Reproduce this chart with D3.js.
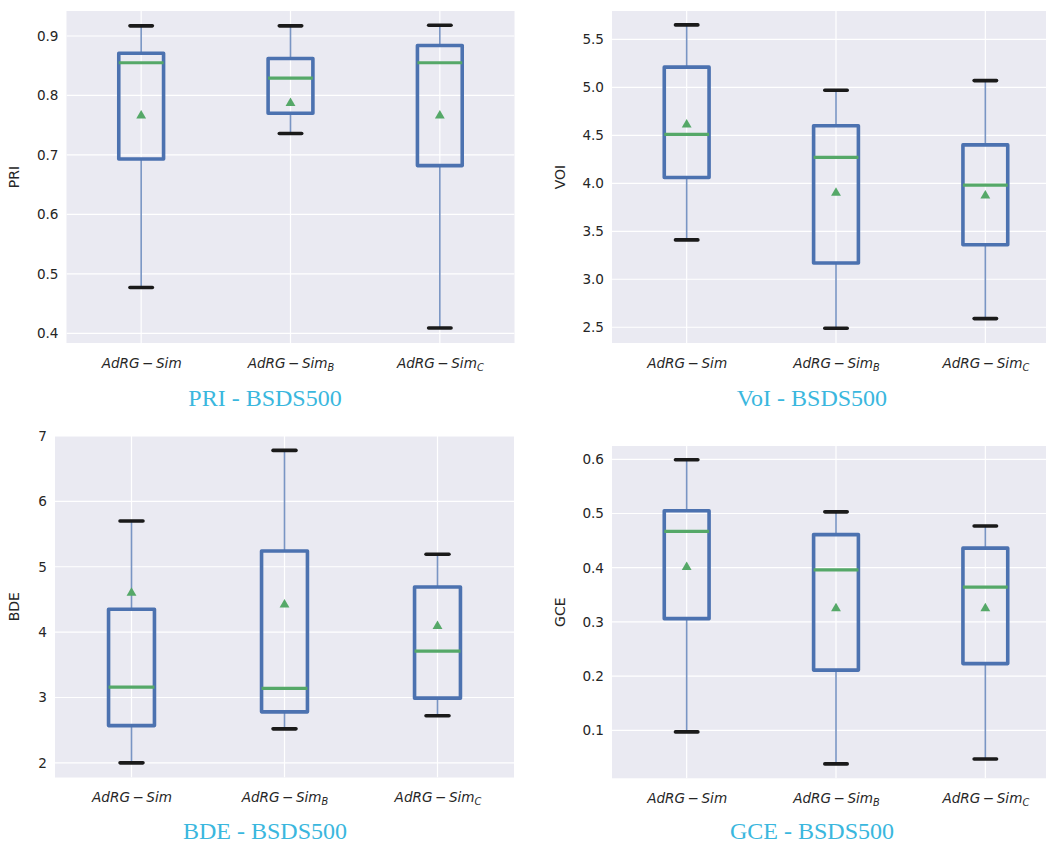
<!DOCTYPE html>
<html>
<head>
<meta charset="utf-8">
<script src="https://cdn.jsdelivr.net/npm/d3@7"></script>
<style>
  html, body { margin: 0; padding: 0; background: #ffffff; }
  svg { display: block; }
</style>
</head>
<body>
<svg id="chart" width="1046" height="843"></svg>
<script>
// ---- data ----
const categories = ["AdRG−Sim", "AdRG−Sim_B", "AdRG−Sim_C"];
const tickSubscripts = ["", "B", "C"];

// each row: [lowWhisker, q1, median, q3, highWhisker, mean]
const priStats = [
  [0.477, 0.693, 0.855, 0.871, 0.917, 0.766],
  [0.736, 0.770, 0.829, 0.862, 0.917, 0.787],
  [0.409, 0.682, 0.855, 0.884, 0.918, 0.766]
];
const voiStats = [
  [3.41, 4.06, 4.51, 5.21, 5.65, 4.61],
  [2.49, 3.17, 4.27, 4.60, 4.97, 3.90],
  [2.59, 3.36, 3.98, 4.40, 5.07, 3.87]
];
const bdeStats = [
  [2.00, 2.57, 3.16, 4.35, 5.70, 4.60],
  [2.52, 2.78, 3.14, 5.24, 6.78, 4.42],
  [2.72, 2.99, 3.71, 4.69, 5.19, 4.09]
];
const gceStats = [
  [0.097, 0.306, 0.467, 0.505, 0.599, 0.401],
  [0.038, 0.211, 0.396, 0.461, 0.503, 0.325],
  [0.047, 0.223, 0.364, 0.436, 0.477, 0.325]
];

const priTicks = [0.4, 0.5, 0.6, 0.7, 0.8, 0.9];
const voiTicks = [2.5, 3.0, 3.5, 4.0, 4.5, 5.0, 5.5];
const bdeTicks = [2, 3, 4, 5, 6, 7];
const gceTicks = [0.1, 0.2, 0.3, 0.4, 0.5, 0.6];

const yLabels = ["PRI", "VOI", "BDE", "GCE"];
const captions = ["PRI - BSDS500", "VoI - BSDS500", "BDE - BSDS500", "GCE - BSDS500"];

// ---- layout ----
const panels = [
  { stats: priStats, ticks: priTicks, fmt: ".1f", domain: [0.3837, 0.942], x0: 66.5, x1: 514.5, y0: 11, y1: 343, ylabel: yLabels[0], caption: captions[0], ylabX: 19, capY: 406 },
  { stats: voiStats, ticks: voiTicks, fmt: ".1f", domain: [2.336, 5.795], x0: 612, x1: 1060, y0: 11, y1: 343, ylabel: yLabels[1], caption: captions[1], ylabX: 565, capY: 406 },
  { stats: bdeStats, ticks: bdeTicks, fmt: "d", domain: [1.776, 7.0], x0: 55, x1: 514, y0: 436, y1: 777.5, ylabel: yLabels[2], caption: captions[2], ylabX: 19, capY: 839 },
  { stats: gceStats, ticks: gceTicks, fmt: ".1f", domain: [0.0114, 0.6245], x0: 612, x1: 1060, y0: 446, y1: 778.3, ylabel: yLabels[3], caption: captions[3], ylabX: 565, capY: 839 }
];

const svg = d3.select("#chart");
const BG = "#EAEAF2", BLUE = "#4C72B0", GREEN = "#55A868", TXT = "#262626";

panels.forEach((p, pi) => {
  const g = svg.append("g");
  const x = d3.scalePoint().domain(categories).range([p.x0, p.x1]).padding(0.5);
  const y = d3.scaleLinear().domain(p.domain).range([p.y1, p.y0]);
  const step = x.step();

  const clipId = "clip" + pi;
  svg.append("clipPath").attr("id", clipId)
    .append("rect").attr("x", p.x0).attr("y", p.y0).attr("width", p.x1 - p.x0).attr("height", p.y1 - p.y0);

  g.append("rect").attr("x", p.x0).attr("y", p.y0).attr("width", p.x1 - p.x0).attr("height", p.y1 - p.y0).attr("fill", BG);

  // grid
  const grid = g.append("g").attr("clip-path", `url(#${clipId})`);
  grid.selectAll("line.h").data(p.ticks).join("line")
    .attr("x1", p.x0).attr("x2", p.x1).attr("y1", d => y(d)).attr("y2", d => y(d))
    .attr("stroke", "#fff").attr("stroke-width", 1.2);
  grid.selectAll("line.v").data(categories).join("line")
    .attr("x1", d => x(d)).attr("x2", d => x(d)).attr("y1", p.y0).attr("y2", p.y1)
    .attr("stroke", "#fff").attr("stroke-width", 1.2);

  // y axis
  const yAxis = d3.axisLeft(y).tickValues(p.ticks).tickFormat(d3.format(p.fmt)).tickSize(0).tickPadding(8);
  const ya = g.append("g").attr("transform", `translate(${p.x0},0)`).call(yAxis);
  ya.select(".domain").remove();
  ya.selectAll("text").attr("font-family", "DejaVu Sans").attr("font-size", 13.6).attr("fill", TXT);

  // x axis
  const xAxis = d3.axisBottom(x).tickSize(0).tickPadding(11).tickFormat(() => "");
  const xa = g.append("g").attr("transform", `translate(0,${p.y1})`).call(xAxis);
  xa.select(".domain").remove();
  xa.selectAll(".tick text").each(function(d, i) {
    const t = d3.select(this).attr("font-family", "DejaVu Sans").attr("font-size", 13.6).attr("fill", TXT)
      .attr("dy", "1.0em").text(null);
    t.append("tspan").attr("font-style", "italic").text("AdRG");
    t.append("tspan").attr("dx", 2.5).text("−");
    t.append("tspan").attr("dx", 2.5).attr("font-style", "italic").text("Sim");
    if (tickSubscripts[i]) {
      t.append("tspan").attr("font-style", "italic").attr("font-size", 9.8).attr("dy", 3).text(tickSubscripts[i]);
    }
  });

  // boxes
  const bw = 0.3 * step, cw = 0.15 * step;
  const boxes = g.append("g").attr("clip-path", `url(#${clipId})`);
  p.stats.forEach((s, i) => {
    const cx = x(categories[i]);
    const [lo, q1, med, q3, hi, mean] = s;
    // whiskers
    boxes.append("line").attr("x1", cx).attr("x2", cx).attr("y1", y(q3)).attr("y2", y(hi))
      .attr("stroke", BLUE).attr("stroke-width", 1.6).attr("stroke-opacity", 0.75);
    boxes.append("line").attr("x1", cx).attr("x2", cx).attr("y1", y(q1)).attr("y2", y(lo))
      .attr("stroke", BLUE).attr("stroke-width", 1.6).attr("stroke-opacity", 0.75);
    // caps
    [lo, hi].forEach(v => boxes.append("line")
      .attr("x1", cx - cw / 2).attr("x2", cx + cw / 2).attr("y1", y(v)).attr("y2", y(v))
      .attr("stroke", "#1a1a1a").attr("stroke-width", 3.6).attr("stroke-linecap", "round"));
    // box
    boxes.append("rect").attr("x", cx - bw / 2).attr("y", y(q3)).attr("width", bw).attr("height", y(q1) - y(q3))
      .attr("fill", "none").attr("stroke", BLUE).attr("stroke-width", 3.6).attr("stroke-linejoin", "round");
    // median
    boxes.append("line").attr("x1", cx - bw / 2).attr("x2", cx + bw / 2).attr("y1", y(med)).attr("y2", y(med))
      .attr("stroke", GREEN).attr("stroke-width", 3.2);
    // mean
    boxes.append("path").attr("d", d3.symbol().type(d3.symbolTriangle).size(42)())
      .attr("transform", `translate(${cx},${y(mean)})`).attr("fill", GREEN);
  });

  // y label
  g.append("text").attr("transform", `translate(${p.ylabX},${(p.y0 + p.y1) / 2}) rotate(-90)`)
    .attr("text-anchor", "middle").attr("font-family", "DejaVu Sans").attr("font-size", 14).attr("fill", TXT)
    .text(p.ylabel);

  // caption
  const capX = pi % 2 === 0 ? 265 : 812;
  g.append("text").attr("x", capX).attr("y", p.capY).attr("text-anchor", "middle")
    .attr("font-family", "Liberation Serif").attr("font-size", 24).attr("fill", "#3ab7de")
    .text(p.caption);
});
</script>
</body>
</html>
